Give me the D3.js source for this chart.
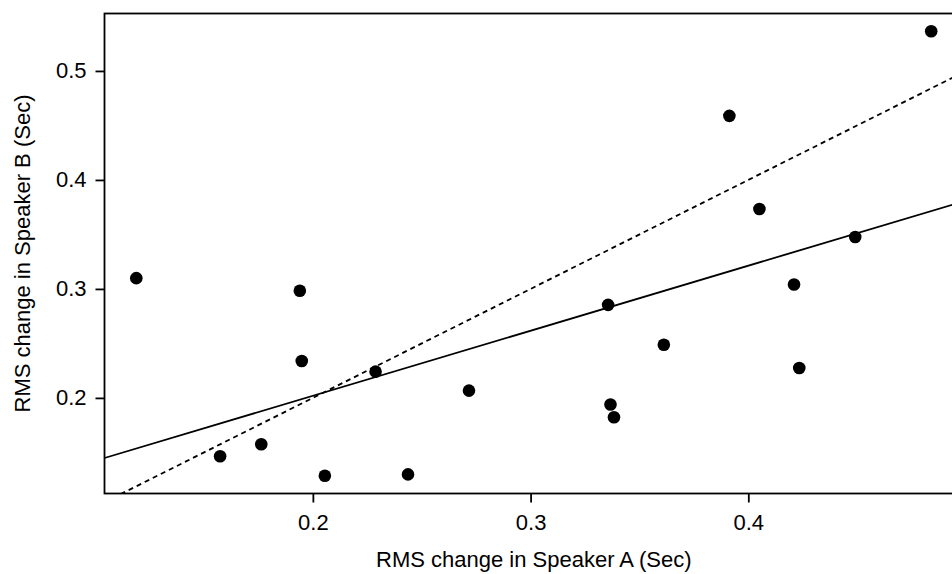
<!DOCTYPE html>
<html>
<head>
<meta charset="utf-8">
<script src="https://cdn.jsdelivr.net/npm/d3@7"></script>
<style>
  body { margin: 0; background: #fff; }
  svg { display: block; font-family: "Liberation Sans", Arial, sans-serif; }
</style>
</head>
<body>
<script>
// RMS change per speaker pair (seconds)
const speakerA = [0.1189, 0.1574, 0.1763, 0.1940, 0.1949, 0.2055, 0.2288, 0.2437, 0.2717, 0.3356,
                  0.3367, 0.3383, 0.3612, 0.3913, 0.4051, 0.4210, 0.4234, 0.4491, 0.4840];
const speakerB = [0.3099, 0.1465, 0.1575, 0.2983, 0.2339, 0.1286, 0.2241, 0.1298, 0.2067, 0.2854,
                  0.1939, 0.1822, 0.2488, 0.4588, 0.3733, 0.3040, 0.2275, 0.3477, 0.5364];
const xTicks = [0.2, 0.3, 0.4];
const yTicks = [0.2, 0.3, 0.4, 0.5];

const draw = () => {
    const width = 952, height = 574;
    const left = 104.5, top = 13.5, bottom = 493.5, right = 963;
    const fontSize = '22px';

    const svg = d3.select('body').append('svg')
        .attr('width', width)
        .attr('height', height);

    // R style 4% padding on the data range
    const pad = ext => {
        const r = ext[1] - ext[0];
        return [ext[0] - 0.04 * r, ext[1] + 0.04 * r];
    };

    const x = d3.scaleLinear().domain(pad(d3.extent(speakerA))).range([left, right]);
    const y = d3.scaleLinear().domain(pad(d3.extent(speakerB))).range([bottom, top]);

    const points = speakerA.map((a, i) => ({a: a, b: speakerB[i]}));

    // least squares fit of B on A
    const mx = d3.mean(speakerA), my = d3.mean(speakerB);
    const sxy = d3.sum(points, d => (d.a - mx) * (d.b - my));
    const sxx = d3.sum(points, d => (d.a - mx) ** 2);
    const slope = sxy / sxx;
    const intercept = my - slope * mx;

    svg.append('clipPath').attr('id', 'plotClip')
        .append('rect')
        .attr('x', left).attr('y', top)
        .attr('width', right - left).attr('height', bottom - top);

    const xd = x.domain();
    const plot = svg.append('g').attr('clip-path', 'url(#plotClip)');

    // fitted line
    plot.append('line')
        .attr('x1', x(xd[0])).attr('y1', y(intercept + slope * xd[0]))
        .attr('x2', x(xd[1])).attr('y2', y(intercept + slope * xd[1]))
        .attr('stroke', '#000')
        .attr('stroke-width', 1.8);

    // identity line
    plot.append('line')
        .attr('x1', x(xd[0])).attr('y1', y(xd[0]))
        .attr('x2', x(xd[1])).attr('y2', y(xd[1]))
        .attr('stroke', '#000')
        .attr('stroke-width', 1.8)
        .attr('stroke-dasharray', '5,4');

    svg.append('g').selectAll('circle')
        .data(points)
        .enter().append('circle')
        .attr('cx', d => x(d.a))
        .attr('cy', d => y(d.b))
        .attr('r', 6.3)
        .attr('fill', '#000');

    // box
    svg.append('rect')
        .attr('x', left).attr('y', top)
        .attr('width', right - left).attr('height', bottom - top)
        .attr('fill', 'none')
        .attr('stroke', '#000')
        .attr('stroke-width', 1.8);

    const xAxis = d3.axisBottom(x).tickValues(xTicks).tickSize(9).tickPadding(12)
        .tickFormat(d3.format('.1f'));
    const gx = svg.append('g').attr('transform', `translate(0,${bottom})`).call(xAxis);
    gx.select('.domain').remove();

    const yAxis = d3.axisLeft(y).tickValues(yTicks).tickSize(9).tickPadding(9)
        .tickFormat(d3.format('.1f'));
    const gy = svg.append('g').attr('transform', `translate(${left},0)`).call(yAxis);
    gy.select('.domain').remove();

    [gx, gy].forEach(g => {
        g.selectAll('line').attr('stroke', '#000').attr('stroke-width', 1.8);
        g.selectAll('text').attr('fill', '#000').style('font-size', fontSize)
            .style('font-family', '"Liberation Sans", Arial, sans-serif');
    });

    svg.append('text')
        .attr('x', (left + right) / 2)
        .attr('y', 567)
        .attr('text-anchor', 'middle')
        .style('font-size', fontSize)
        .text('RMS change in Speaker A (Sec)');

    svg.append('text')
        .attr('transform', `translate(30,${(top + bottom) / 2}) rotate(-90)`)
        .attr('text-anchor', 'middle')
        .style('font-size', fontSize)
        .text('RMS change in Speaker B (Sec)');
};

draw();
</script>
</body>
</html>
